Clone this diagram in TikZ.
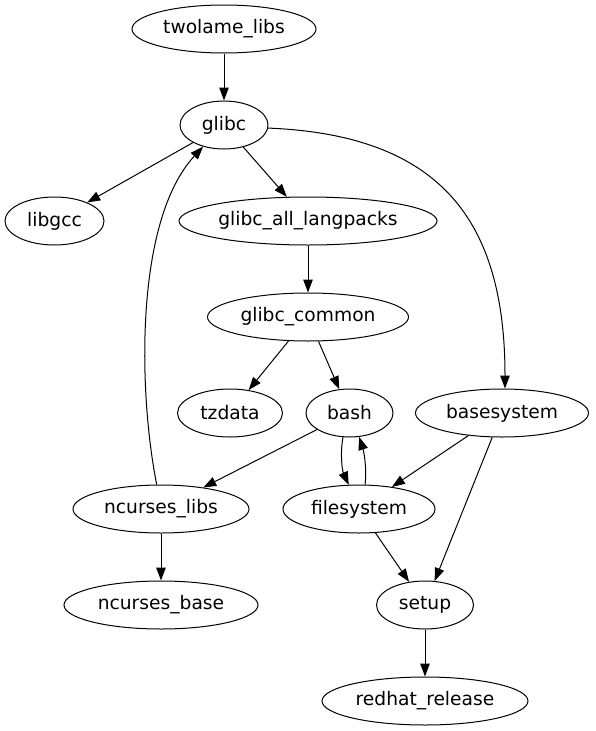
\documentclass[tikz,border=0pt]{standalone}
\usepackage{fontspec}
\setmainfont{DejaVu Sans}
\usetikzlibrary{shapes.geometric,arrows.meta}

\begin{document}
\begin{tikzpicture}[x=1pt, y=-1pt,
  pkg/.style={draw, ellipse, line width=1pt, inner sep=0pt, minimum height=48,
    font=\fontsize{18.67}{22}\selectfont},
  dep/.style={-{Triangle[length=13pt, width=9.5pt]}, line width=1pt}]
\useasboundingbox (0,0) rectangle (595,731);
% packages, one row per rank
\node[pkg, minimum width=184] (twolame_libs) at (224,29) {twolame\_libs};
\node[pkg, minimum width=88] (glibc) at (224,125) {glibc};
\node[pkg, minimum width=99] (libgcc) at (54.5,221) {libgcc};
\node[pkg, minimum width=258] (glibc_all_langpacks) at (308,221) {glibc\_all\_langpacks};
\node[pkg, minimum width=201] (glibc_common) at (308,317) {glibc\_common};
\node[pkg, minimum width=105] (tzdata) at (230,413) {tzdata};
\node[pkg, minimum width=87] (bash) at (349.5,413) {bash};
\node[pkg, minimum width=173] (basesystem) at (502,413) {basesystem};
\node[pkg, minimum width=176] (ncurses_libs) at (161,509) {ncurses\_libs};
\node[pkg, minimum width=152] (filesystem) at (359,509) {filesystem};
\node[pkg, minimum width=194] (ncurses_base) at (161,605) {ncurses\_base};
\node[pkg, minimum width=97] (setup) at (425,605) {setup};
\node[pkg, minimum width=206] (redhat_release) at (425,701) {redhat\_release};
% dependencies
\draw[dep] (twolame_libs) -- (glibc);
\draw[dep] (glibc) -- (libgcc);
\draw[dep] (glibc) -- (glibc_all_langpacks);
\draw[dep] (glibc.-4) .. controls (440,135) and (505,220) .. (basesystem.83);
\draw[dep] (glibc_all_langpacks) -- (glibc_common);
\draw[dep] (glibc_common) -- (tzdata);
\draw[dep] (glibc_common) -- (bash);
\draw[dep] (bash) -- (ncurses_libs);
\draw[dep] (bash.255) .. controls (340,452) and (342,470) .. (filesystem.113);
\draw[dep] (filesystem.76) .. controls (367,470) and (364,452) .. (bash.292);
\draw[dep] (basesystem) -- (filesystem);
\draw[dep] (basesystem) -- (setup);
\draw[dep] (ncurses_libs.100) .. controls (138,390) and (135,220) .. (glibc.226);
\draw[dep] (ncurses_libs) -- (ncurses_base);
\draw[dep] (filesystem) -- (setup);
\draw[dep] (setup) -- (redhat_release);
\end{tikzpicture}
\end{document}
